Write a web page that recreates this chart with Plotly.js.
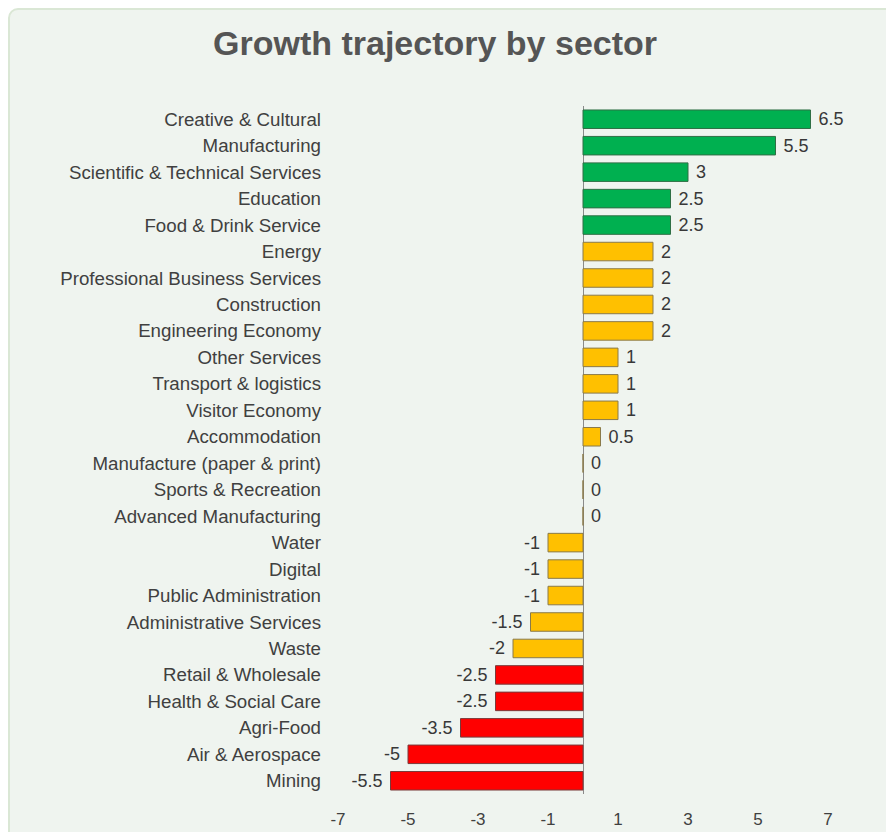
<!DOCTYPE html>
<html>
<head>
<meta charset="utf-8">
<script src="https://cdn.plot.ly/plotly-3.0.1.min.js"></script>
<style>
  html, body { margin: 0; padding: 0; background: #ffffff; width: 886px; height: 832px; overflow: hidden; }
  #frame { position: absolute; left: 8px; top: 8px; width: 900px; height: 900px;
           border: 2px solid #dae7d5; border-radius: 10px; background: #eff4ef; box-sizing: border-box; }
  #chart { position: absolute; left: 0; top: 0; width: 886px; height: 832px; }
</style>
</head>
<body>
<div id="frame"></div>
<div id="chart"></div>
<script>
const sectors = [
  "Creative & Cultural", "Manufacturing", "Scientific & Technical Services", "Education",
  "Food & Drink Service", "Energy", "Professional Business Services", "Construction",
  "Engineering Economy", "Other Services", "Transport & logistics", "Visitor Economy",
  "Accommodation", "Manufacture (paper & print)", "Sports & Recreation", "Advanced Manufacturing",
  "Water", "Digital", "Public Administration", "Administrative Services", "Waste",
  "Retail & Wholesale", "Health & Social Care", "Agri-Food", "Air & Aerospace", "Mining"
];
const growth = [6.5, 5.5, 3, 2.5, 2.5, 2, 2, 2, 2, 1, 1, 1, 0.5, 0, 0, 0, -1, -1, -1, -1.5, -2, -2.5, -2.5, -3.5, -5, -5.5];
const band = ["green","green","green","green","green","amber","amber","amber","amber","amber","amber","amber","amber","amber","amber","amber","amber","amber","amber","amber","amber","red","red","red","red","red"];
const xTicks = [-7, -5, -3, -1, 1, 3, 5, 7];

const bandColor = { green: "#00b050", amber: "#ffc000", red: "#ff0000" };
const bandLine = { green: "#2f6f45", amber: "#8a7a4a", red: "#7a3a3a" };
const FONT = "Liberation Sans, Arial, sans-serif";
const pad = "\u00a0";

const trace = {
  type: "bar",
  orientation: "h",
  y: sectors,
  x: growth,
  width: 0.7,
  marker: {
    color: band.map(b => bandColor[b]),
    line: { color: band.map(b => bandLine[b]), width: 1 }
  },
  text: growth.map(v => v < 0 ? String(v) + pad : pad + String(v)),
  textposition: "outside",
  constraintext: "none",
  cliponaxis: false,
  textfont: { family: FONT, size: 18, color: "#383838" },
  hoverinfo: "skip"
};

const layout = {
  width: 886, height: 832,
  paper_bgcolor: "rgba(0,0,0,0)",
  plot_bgcolor: "rgba(0,0,0,0)",
  margin: { l: 338, r: 58, t: 106, b: 38 },
  showlegend: false,
  title: {
    text: "<b>Growth trajectory by sector</b>",
    x: 0.491, xanchor: "center", xref: "container",
    y: 0.948, yanchor: "middle", yref: "container",
    font: { family: FONT, size: 34, color: "#555555" }
  },
  xaxis: {
    range: [-7, 7],
    tickvals: xTicks,
    ticktext: xTicks.map(String),
    showgrid: false,
    zeroline: true, zerolinecolor: "#8a8a8a", zerolinewidth: 1,
    showline: false, ticks: "",
    ticklabelstandoff: 13,
    tickfont: { family: FONT, size: 17, color: "#404040" }
  },
  yaxis: {
    type: "category",
    autorange: "reversed",
    showgrid: false, zeroline: false, showline: false, ticks: "",
    ticklabelstandoff: 16,
    tickfont: { family: FONT, size: 18.7, color: "#404040" }
  },
  bargap: 0.3
};

Plotly.newPlot("chart", [trace], layout, { displayModeBar: false, staticPlot: true });
</script>
</body>
</html>
